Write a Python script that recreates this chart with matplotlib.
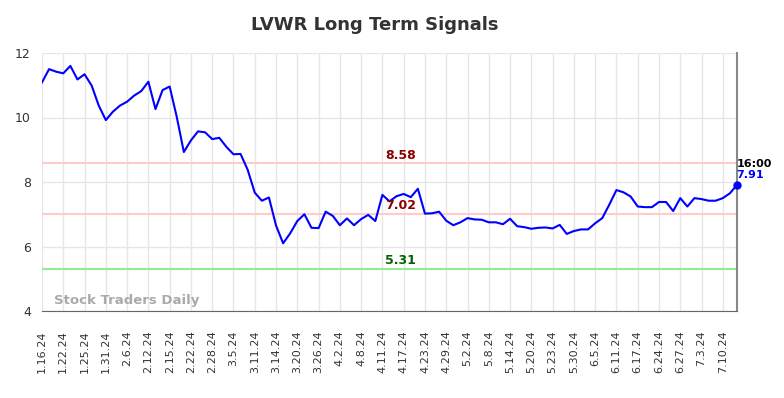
"""LVWR Long Term Signals - recreation of the daily-close chart with signal levels."""

import matplotlib
matplotlib.use("Agg")
import matplotlib.pyplot as plt

# Closing prices, one per trading day (1.16.24 -> 7.16.24)
prix = [
    11.09, 11.50, 11.42, 11.37, 11.60, 11.18, 11.34, 10.99, 10.37, 9.92,
    10.18, 10.37, 10.49, 10.68, 10.82, 11.11, 10.26, 10.85, 10.96, 10.02,
    8.93, 9.29, 9.57, 9.54, 9.33, 9.37, 9.09, 8.86, 8.87, 8.38,
    7.67, 7.42, 7.52, 6.65, 6.10, 6.41, 6.79, 7.00, 6.58, 6.57,
    7.08, 6.95, 6.66, 6.87, 6.66, 6.85, 6.98, 6.79, 7.60, 7.40,
    7.56, 7.63, 7.53, 7.79, 7.02, 7.03, 7.08, 6.80, 6.66, 6.75,
    6.88, 6.84, 6.83, 6.75, 6.75, 6.69, 6.86, 6.63, 6.60, 6.55,
    6.58, 6.59, 6.56, 6.67, 6.39, 6.48, 6.53, 6.53, 6.72, 6.88,
    7.30, 7.75, 7.68, 7.55, 7.24, 7.22, 7.22, 7.38, 7.38, 7.10,
    7.50, 7.24, 7.50, 7.47, 7.42, 7.42, 7.50, 7.65, 7.91,
]

# One label every 3 trading days
etiquettes = [
    "1.16.24", "1.22.24", "1.25.24", "1.31.24", "2.6.24", "2.12.24", "2.15.24",
    "2.22.24", "2.28.24", "3.5.24", "3.11.24", "3.14.24", "3.20.24", "3.26.24",
    "4.2.24", "4.8.24", "4.11.24", "4.17.24", "4.23.24", "4.29.24", "5.2.24",
    "5.8.24", "5.14.24", "5.20.24", "5.23.24", "5.30.24", "6.5.24", "6.11.24",
    "6.17.24", "6.24.24", "6.27.24", "7.3.24", "7.10.24",
]

# Signal levels: (value, line colour, text colour)
niveaux = [8.58, 7.02, 5.31]
couleurs_lignes = ["#ffcccc", "#ffcccc", "#90ee90"]
couleurs_textes = ["#8b0000", "#8b0000", "#006400"]

heure_derniere = "16:00"

fig = plt.figure(figsize=(7.84, 3.98), dpi=100)
ax = fig.add_axes([42 / 784, 1 - 311 / 398, (737 - 42) / 784, (311 - 53) / 398])

x = list(range(len(prix)))

for niveau, c_ligne in zip(niveaux, couleurs_lignes):
    ax.axhline(niveau, color=c_ligne, lw=1.5, zorder=1)

ax.plot(x, prix, color="#0000ff", lw=1.5, zorder=3)
ax.plot(x[-1], prix[-1], "o", color="#0000ff", ms=5, zorder=4, clip_on=False)

# Level labels sit just above their line, around the middle of the period
x_label = 50.5
for niveau, c_txt in zip(niveaux, couleurs_textes):
    ax.text(x_label, niveau + 0.05, f"{niveau:.2f}", color=c_txt, fontsize=9,
            fontweight="bold", ha="center", va="bottom", zorder=5)

ax.text(x[-1] - 0.1, prix[-1] + 0.5, heure_derniere, color="black", fontsize=8,
        fontweight="bold", ha="left", va="bottom")
ax.text(x[-1] - 0.1, prix[-1] + 0.15, f"{prix[-1]:.2f}", color="#0000ff", fontsize=8,
        fontweight="bold", ha="left", va="bottom")

ax.text(1.7, 4.12, "Stock Traders Daily", color="#aaaaaa", fontsize=9.5,
        fontweight="bold", ha="left", va="bottom")

ax.set_xlim(0, len(prix) - 1)
ax.set_ylim(4, 12)
ax.set_yticks([4, 6, 8, 10, 12])
ax.set_xticks(range(0, 3 * len(etiquettes), 3))
ax.set_xticklabels(etiquettes, rotation=90, fontsize=8, color="#333333")
ax.tick_params(axis="y", labelsize=9, labelcolor="#333333", length=0, pad=8)
ax.tick_params(axis="x", length=0, pad=14)

ax.grid(True, color="#e6e6e6", lw=1)
ax.set_axisbelow(True)
for cote in ["top", "left"]:
    ax.spines[cote].set_visible(False)
ax.spines["bottom"].set_color("#666666")
ax.spines["right"].set_color("#888888")
ax.spines["right"].set_linewidth(1.5)

fig.suptitle("LVWR Long Term Signals", x=375 / 784, y=1 - 16 / 398, fontsize=13,
             fontweight="bold", color="#333333", va="top")

fig.savefig("out.png", dpi=100)
